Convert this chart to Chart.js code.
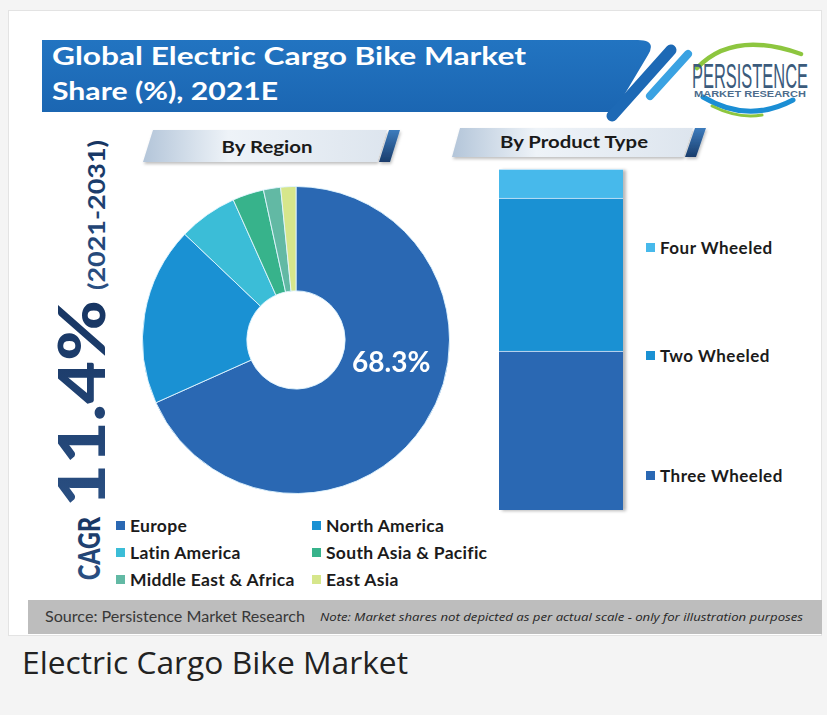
<!DOCTYPE html>
<html>
<head>
<meta charset="utf-8">
<script src="https://cdn.jsdelivr.net/npm/chart.js@4.4.0/dist/chart.umd.min.js"></script>
<style>
  html, body { margin: 0; padding: 0; }
  body {
    width: 827px; height: 715px; position: relative; overflow: hidden;
    background: #f4f4f4; font-family: Lato, "Open Sans", sans-serif;
  }
  #card {
    position: absolute; left: 8px; top: 10px; width: 812px; height: 624px;
    background: #fff; border: 1px solid #e3e3e3;
  }
  #decor { position: absolute; left: 0; top: 0; z-index: 1; }
  .chartBox { position: absolute; z-index: 2; }
  #regionBox { left: 142px; top: 186px; width: 308px; height: 308px; }
  #productBox {
    left: 499px; top: 169px; width: 124px; height: 341px;
    box-shadow: 3px 1px 3px rgba(0, 0, 0, 0.28);
  }
  .legend { position: absolute; z-index: 3; font-weight: 700; color: #1b1b1b; }
  #regionLegend {
    left: 116px; top: 512px; display: grid;
    grid-template-columns: 196px 220px; grid-auto-rows: 27px;
    font-size: 17.5px; letter-spacing: 0.3px;
  }
  #productLegend { left: 646px; top: 0; font-size: 17px; letter-spacing: 0.5px; }
  #productLegend .item { position: absolute; left: 0; height: 20px; }
  .item { display: flex; align-items: center; white-space: nowrap; }
  .sw { width: 9px; height: 9px; margin-right: 5px; flex: none; }
</style>
</head>
<body>
<div id="card"></div>

<svg id="decor" width="827" height="715">
  <defs>
    <linearGradient id="banner" x1="0" y1="0" x2="0" y2="1">
      <stop offset="0" stop-color="#2274c1"/>
      <stop offset="1" stop-color="#1b66b2"/>
    </linearGradient>
    <linearGradient id="tab" x1="0" y1="0" x2="1" y2="0">
      <stop offset="0" stop-color="#b3c5d9"/>
      <stop offset="0.35" stop-color="#eef3f8"/>
      <stop offset="1" stop-color="#dde5ee"/>
    </linearGradient>
    <linearGradient id="tabEdge" x1="0" y1="0" x2="0" y2="1">
      <stop offset="0" stop-color="#3d7cbd"/>
      <stop offset="1" stop-color="#1a3d6c"/>
    </linearGradient>
    <linearGradient id="cagr" x1="0" y1="0" x2="1" y2="0">
      <stop offset="0" stop-color="#2a4f82"/>
      <stop offset="1" stop-color="#173562"/>
    </linearGradient>
    <filter id="soft" x="-10%" y="-30%" width="120%" height="170%">
      <feDropShadow dx="1" dy="2" stdDeviation="1.5" flood-opacity="0.25"/>
    </filter>
  </defs>

  <!-- title banner -->
  <path d="M42,40 H638 Q657,40 648,55 L614,112 H42 Z" fill="url(#banner)"/>
  <line x1="612" y1="116" x2="671" y2="50" stroke="#1d69b5" stroke-width="11" stroke-linecap="round"/>
  <line x1="650" y1="96" x2="688" y2="54" stroke="#3aa2e2" stroke-width="8" stroke-linecap="round"/>
  <text x="52" y="65" fill="#fff" font-size="25" font-weight="700" textLength="474" lengthAdjust="spacingAndGlyphs">Global Electric Cargo Bike Market</text>
  <text x="52" y="100" fill="#fff" font-size="25" font-weight="700" textLength="226" lengthAdjust="spacingAndGlyphs">Share (%), 2021E</text>

  <!-- logo -->
  <path d="M697,68 Q733,30 801,54" fill="none" stroke="#8dc63f" stroke-width="4.5" stroke-linecap="round"/>
  <path d="M703,97 Q748,124 793,100" fill="none" stroke="#1b8ed4" stroke-width="5" stroke-linecap="round"/>
  <path d="M712,106 Q738,119 762,115" fill="none" stroke="#8dc63f" stroke-width="3" stroke-linecap="round"/>
  <text x="692" y="88" fill="#3b5b7c" font-size="35" font-family="'Liberation Sans Narrow', 'Liberation Sans', sans-serif" textLength="116" lengthAdjust="spacingAndGlyphs">PERSISTENCE</text>
  <text x="694" y="97" fill="#4d6c8c" font-size="9" font-weight="700" font-family="'Liberation Sans', sans-serif" textLength="112" lengthAdjust="spacingAndGlyphs">MARKET RESEARCH</text>

  <!-- section tabs -->
  <g filter="url(#soft)">
    <polygon points="153,130 387,130 377,162 143,162" fill="url(#tab)"/>
    <polygon points="389,130 400,130 390,162 379,162" fill="url(#tabEdge)"/>
    <polygon points="460,128 693,128 683,157 452,157" fill="url(#tab)"/>
    <polygon points="695,128 706,128 696,157 685,157" fill="url(#tabEdge)"/>
  </g>
  <text x="267" y="153" text-anchor="middle" fill="#1a1a1a" font-size="17" font-weight="700" textLength="91" lengthAdjust="spacingAndGlyphs">By Region</text>
  <text x="574" y="148" text-anchor="middle" fill="#1a1a1a" font-size="17" font-weight="700" textLength="148" lengthAdjust="spacingAndGlyphs">By Product Type</text>

  <!-- CAGR -->
  <text transform="translate(100,580) rotate(-90)" fill="url(#cagr)" font-size="31" font-weight="900" textLength="63" lengthAdjust="spacingAndGlyphs">CAGR</text>
  <text transform="translate(105,507) rotate(-90)" fill="url(#cagr)" font-size="64" font-weight="900" textLength="207" lengthAdjust="spacingAndGlyphs">11.4%</text>
  <text transform="translate(105,290) rotate(-90)" fill="url(#cagr)" font-size="22" font-weight="700" textLength="150" lengthAdjust="spacingAndGlyphs">(2021-2031)</text>

  <!-- source strip -->
  <rect x="28" y="600" width="794" height="34" fill="#bdbdbd"/>
  <text x="45" y="622" fill="#383838" font-size="14.5" textLength="260" lengthAdjust="spacingAndGlyphs">Source: Persistence Market Research</text>
  <text x="320" y="621" fill="#262626" font-size="11.5" font-style="italic" font-family="'Open Sans', sans-serif" textLength="483" lengthAdjust="spacingAndGlyphs">Note: Market shares not depicted as per actual scale - only for illustration purposes</text>

  <!-- caption -->
  <text x="22" y="674" fill="#222" font-size="31" font-family="'Open Sans', sans-serif" textLength="386" lengthAdjust="spacingAndGlyphs">Electric Cargo Bike Market</text>
</svg>

<div id="regionBox" class="chartBox"><canvas id="regionChart" width="308" height="308"></canvas></div>
<div id="productBox" class="chartBox"><canvas id="productChart" width="124" height="341"></canvas></div>
<div id="regionLegend" class="legend"></div>
<div id="productLegend" class="legend"></div>

<script>
// Données
const regionLabels = ['Europe', 'North America', 'Latin America', 'South Asia & Pacific', 'Middle East & Africa', 'East Asia'];
const regionShares = [68.3, 18.8, 6.2, 3.3, 1.8, 1.6];
const regionColors = ['#2a68b3', '#1a91d3', '#3bbdd7', '#37b38b', '#62b9a4', '#d6e68b'];

const productLabels = ['Three Wheeled', 'Two Wheeled', 'Four Wheeled'];
const productShares = [46.6, 44.9, 8.5];
const productColors = ['#2a68b3', '#1a91d3', '#47b9eb'];

// Mise en page de la légende produit (centres verticaux, haut -> bas)
const productLegendY = [247, 355, 475];

// Libellé blanc sur la part de l'Europe
const calloutLabel = {
    id: 'calloutLabel',
    afterDatasetsDraw(chart) {
        const arc = chart.getDatasetMeta(0).data[0];
        const ctx = chart.ctx;
        ctx.save();
        ctx.fillStyle = '#fff';
        ctx.font = '700 28px Lato, sans-serif';
        ctx.textAlign = 'center';
        ctx.textBaseline = 'middle';
        ctx.fillText(regionShares[0].toFixed(1) + '%', arc.x + arc.outerRadius * 0.62, arc.y + arc.outerRadius * 0.15);
        ctx.restore();
    }
};

new Chart(document.getElementById('regionChart'), {
    type: 'doughnut',
    data: {
        labels: regionLabels,
        datasets: [{
            data: regionShares,
            backgroundColor: regionColors,
            borderColor: 'rgba(225, 245, 255, 0.9)',
            borderWidth: 1,
            hoverOffset: 0
        }]
    },
    options: {
        responsive: false,
        animation: false,
        cutout: '32%',
        layout: { padding: 0 },
        plugins: {
            legend: { display: false },
            tooltip: { enabled: false }
        }
    },
    plugins: [calloutLabel]
});

new Chart(document.getElementById('productChart'), {
    type: 'bar',
    data: {
        labels: ['2021E'],
        datasets: productLabels.map((label, i) => ({
            label: label,
            data: [productShares[i]],
            backgroundColor: productColors[i],
            borderColor: 'rgba(220, 240, 255, 0.8)',
            borderWidth: { top: 1, bottom: 0, left: 0, right: 0 },
            borderSkipped: false,
            barPercentage: 1,
            categoryPercentage: 1
        }))
    },
    options: {
        responsive: false,
        animation: false,
        layout: { padding: 0 },
        plugins: {
            legend: { display: false },
            tooltip: { enabled: false }
        },
        scales: {
            x: { stacked: true, display: false },
            y: { stacked: true, display: false, min: 0, max: 100 }
        }
    }
});

// Légendes HTML
const regionLegend = document.getElementById('regionLegend');
regionLabels.forEach((label, i) => {
    const item = document.createElement('div');
    item.className = 'item';
    item.innerHTML = `<span class="sw" style="background:${regionColors[i]}"></span>${label}`;
    regionLegend.appendChild(item);
});

const productLegend = document.getElementById('productLegend');
productLabels.slice().reverse().forEach((label, i) => {
    const idx = productLabels.indexOf(label);
    const item = document.createElement('div');
    item.className = 'item';
    item.style.top = (productLegendY[i] - 10) + 'px';
    item.innerHTML = `<span class="sw" style="background:${productColors[idx]}"></span>${label}`;
    productLegend.appendChild(item);
});
</script>
</body>
</html>
